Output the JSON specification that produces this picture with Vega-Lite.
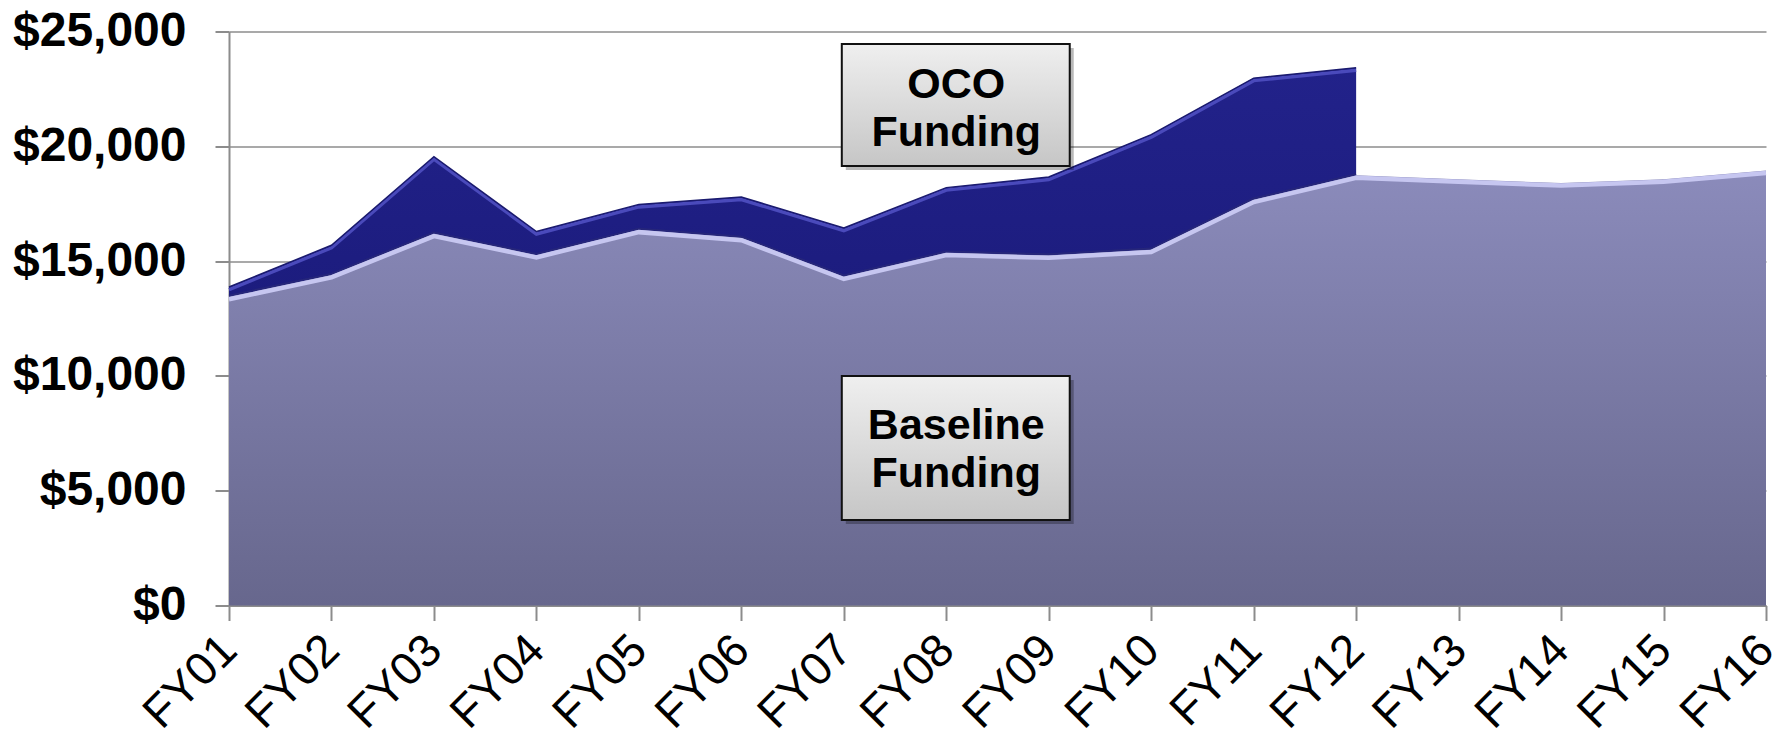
{
  "$schema": "https://vega.github.io/schema/vega-lite/v6.json",
  "width": 1537,
  "height": 574,
  "autosize": {"type": "none"},
  "padding": {"left": 229, "top": 31.5, "right": 19, "bottom": 141.5},
  "background": "white",
  "config": {"view": {"stroke": null}},
  "datasets": {
    "funding": [
      {"fy": "FY01", "series": "Baseline", "value": 13450},
      {"fy": "FY02", "series": "Baseline", "value": 14400},
      {"fy": "FY03", "series": "Baseline", "value": 16200},
      {"fy": "FY04", "series": "Baseline", "value": 15270},
      {"fy": "FY05", "series": "Baseline", "value": 16370},
      {"fy": "FY06", "series": "Baseline", "value": 16020},
      {"fy": "FY07", "series": "Baseline", "value": 14330},
      {"fy": "FY08", "series": "Baseline", "value": 15370},
      {"fy": "FY09", "series": "Baseline", "value": 15250},
      {"fy": "FY10", "series": "Baseline", "value": 15500},
      {"fy": "FY11", "series": "Baseline", "value": 17680},
      {"fy": "FY12", "series": "Baseline", "value": 18740},
      {"fy": "FY13", "series": "Baseline", "value": 18560},
      {"fy": "FY14", "series": "Baseline", "value": 18400},
      {"fy": "FY15", "series": "Baseline", "value": 18560},
      {"fy": "FY16", "series": "Baseline", "value": 18950},
      {"fy": "FY01", "series": "OCO", "value": 420},
      {"fy": "FY02", "series": "OCO", "value": 1290},
      {"fy": "FY03", "series": "OCO", "value": 3350},
      {"fy": "FY04", "series": "OCO", "value": 1020},
      {"fy": "FY05", "series": "OCO", "value": 1100},
      {"fy": "FY06", "series": "OCO", "value": 1770},
      {"fy": "FY07", "series": "OCO", "value": 2110},
      {"fy": "FY08", "series": "OCO", "value": 2830},
      {"fy": "FY09", "series": "OCO", "value": 3410},
      {"fy": "FY10", "series": "OCO", "value": 5010},
      {"fy": "FY11", "series": "OCO", "value": 5290},
      {"fy": "FY12", "series": "OCO", "value": 4680}
    ],
    "boxes": [
      {"x1": "FY07", "x2": "FY09", "xc": "FY08", "top": 24456, "bottom": 19142, "first": 22667, "label": "OCO\nFunding"},
      {"x1": "FY07", "x2": "FY09", "xc": "FY08", "top": 9996, "bottom": 3724, "first": 7817, "label": "Baseline\nFunding"}
    ]
  },
  "layer": [
    {
      "data": {"name": "funding"},
      "transform": [
        {"stack": "value", "groupby": ["fy"], "sort": [{"field": "series", "order": "ascending"}], "as": ["v0", "v1"]}
      ],
      "layer": [
        {
          "transform": [{"filter": "datum.series === 'Baseline'"}],
          "mark": {
            "type": "area",
            "color": {"gradient": "linear", "x1": 0, "y1": 0, "x2": 0, "y2": 1,
              "stops": [{"offset": 0, "color": "#8b8bbb"}, {"offset": 1, "color": "#67678d"}]}
          },
          "encoding": {
            "x": {"field": "fy", "type": "ordinal", "title": null,
              "scale": {"type": "point", "padding": 0, "domain": ["FY01","FY02","FY03","FY04","FY05","FY06","FY07","FY08","FY09","FY10","FY11","FY12","FY13","FY14","FY15","FY16"]},
              "axis": {"title": null, "labelAngle": -45, "labelAlign": "right", "labelBaseline": "middle",
                "labelFont": "Liberation Sans", "labelFontSize": 46, "labelColor": "#000", "labelPadding": 22,
                "labelOffset": 0, "tickSize": 15, "tickColor": "#8c8c8c", "tickWidth": 2,
                "domainColor": "#8c8c8c", "domainWidth": 2, "grid": false}},
            "y": {"field": "v1", "type": "quantitative", "title": null,
              "scale": {"domain": [0, 25000], "nice": false, "zero": true},
              "axis": {"values": [0, 5000, 10000, 15000, 20000, 25000], "format": "$,.0f", "title": null,
                "grid": true, "gridColor": "#8c8c8c", "gridWidth": 1.5,
                "domainColor": "#8c8c8c", "domainWidth": 2, "tickColor": "#8c8c8c", "tickWidth": 2, "tickSize": 14,
                "labelPadding": 29, "labelFont": "Liberation Sans", "labelFontWeight": "bold", "labelFontSize": 48,
                "labelColor": "#000"}},
            "y2": {"field": "v0"}
          }
        },
        {
          "transform": [{"filter": "datum.series === 'OCO'"}],
          "mark": {
            "type": "area",
            "color": {"gradient": "linear", "x1": 0, "y1": 0, "x2": 0, "y2": 1,
              "stops": [{"offset": 0, "color": "#22228a"}, {"offset": 1, "color": "#1c1c7e"}]}
          },
          "encoding": {
            "x": {"field": "fy", "type": "ordinal", "title": null},
            "y": {"field": "v1", "type": "quantitative", "title": null},
            "y2": {"field": "v0"}
          }
        },
        {
          "transform": [{"filter": "datum.series === 'OCO'"}],
          "mark": {"type": "line", "color": "#26267a", "strokeWidth": 2, "yOffset": -1},
          "encoding": {
            "x": {"field": "fy", "type": "ordinal", "title": null},
            "y": {"field": "v0", "type": "quantitative", "title": null}
          }
        },
        {
          "transform": [{"filter": "datum.series === 'Baseline'"}],
          "mark": {"type": "line", "color": "#c6c6f0", "strokeWidth": 4.5, "yOffset": 2.5},
          "encoding": {
            "x": {"field": "fy", "type": "ordinal", "title": null},
            "y": {"field": "v1", "type": "quantitative", "title": null}
          }
        },
        {
          "transform": [{"filter": "datum.series === 'OCO'"}],
          "mark": {"type": "line", "color": "#4a4abb", "strokeWidth": 3.5, "yOffset": 2.5},
          "encoding": {
            "x": {"field": "fy", "type": "ordinal", "title": null},
            "y": {"field": "v1", "type": "quantitative", "title": null}
          }
        },
        {
          "transform": [{"filter": "datum.series === 'OCO'"}],
          "mark": {"type": "line", "color": "#1a1a6e", "strokeWidth": 1.5},
          "encoding": {
            "x": {"field": "fy", "type": "ordinal", "title": null},
            "y": {"field": "v1", "type": "quantitative", "title": null}
          }
        }
      ]
    },
    {
      "data": {"name": "boxes"},
      "layer": [
        {
          "mark": {"type": "rect", "fill": "#000000", "opacity": 0.28, "xOffset": 2, "x2Offset": 25, "yOffset": 4, "y2Offset": 4},
          "encoding": {
            "x": {"field": "x1", "type": "ordinal", "title": null},
            "x2": {"field": "x2"},
            "y": {"field": "top", "type": "quantitative", "title": null},
            "y2": {"field": "bottom"}
          }
        },
        {
          "mark": {"type": "rect", "xOffset": -2, "x2Offset": 21, "stroke": "#111111", "strokeWidth": 2,
            "fill": {"gradient": "linear", "x1": 0, "y1": 0, "x2": 0, "y2": 1,
              "stops": [{"offset": 0, "color": "#efefef"}, {"offset": 1, "color": "#c6c6c6"}]}},
          "encoding": {
            "x": {"field": "x1", "type": "ordinal", "title": null},
            "x2": {"field": "x2"},
            "y": {"field": "top", "type": "quantitative", "title": null},
            "y2": {"field": "bottom"}
          }
        },
        {
          "mark": {"type": "text", "lineBreak": "\n", "font": "Liberation Sans", "fontWeight": "bold", "fontSize": 43,
            "lineHeight": 48, "dx": 10, "align": "center", "baseline": "middle", "color": "#000000"},
          "encoding": {
            "x": {"field": "xc", "type": "ordinal", "title": null},
            "y": {"field": "first", "type": "quantitative", "title": null},
            "text": {"field": "label", "type": "nominal"}
          }
        }
      ]
    }
  ]
}
